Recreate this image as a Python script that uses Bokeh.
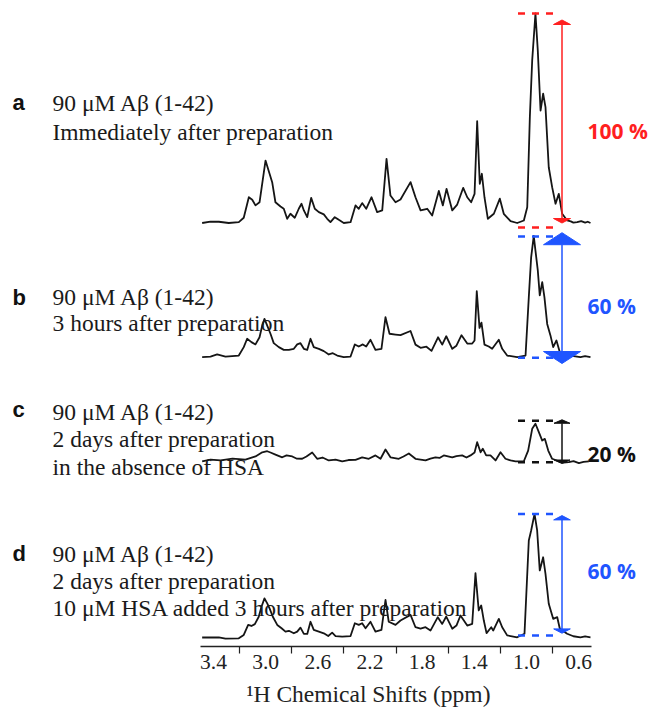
from bokeh.plotting import figure
from bokeh.models import Range1d, FixedTicker, ColumnDataSource, Title
from bokeh.core.properties import value
from bokeh.embed import file_html
from bokeh.resources import INLINE

# ---------------- data (ppm, intensity in % of spectrum a's main peak) -------------
ppm_a = [3.487, 3.423, 3.359, 3.283, 3.206, 3.168, 3.129, 3.103, 3.078, 3.047, 3.001, 2.970,
         2.950, 2.925, 2.886, 2.861, 2.835, 2.810, 2.777, 2.746, 2.725, 2.707, 2.681, 2.651,
         2.623, 2.592, 2.554, 2.528, 2.503, 2.470, 2.439, 2.401, 2.349, 2.311, 2.286, 2.260,
         2.229, 2.188, 2.145, 2.106, 2.073, 2.043, 2.004, 1.966, 1.889, 1.851, 1.812, 1.761,
         1.723, 1.672, 1.641, 1.613, 1.569, 1.531, 1.485, 1.454, 1.424, 1.398, 1.378, 1.358,
         1.342, 1.322, 1.296, 1.250, 1.204, 1.174, 1.122, 1.071, 1.020, 0.994, 0.974, 0.956,
         0.931, 0.913, 0.892, 0.872, 0.854, 0.829, 0.803, 0.777, 0.752, 0.726, 0.688, 0.660,
         0.640, 0.611, 0.580, 0.550, 0.530, 0.509]
int_a = [0.0, 0.7, 0.6, 0.0, 0.4, 2.5, 12.3, 11.1, 8.4, 9.9, 29.8, 23.5,
         19.5, 9.9, 7.9, 6.8, 2.0, 4.4, 2.5, 6.8, 9.2, 6.0, 2.8, 12.0,
         6.8, 5.2, 4.1, 2.0, 0.4, 2.8, 1.5, 0.0, 0.4, 8.4, 6.8, 9.5,
         6.8, 12.3, 5.2, 6.0, 30.6, 13.1, 9.9, 11.2, 19.5, 12.3, 6.0, 6.8,
         3.6, 15.3, 8.4, 16.3, 6.0, 8.8, 16.8, 12.3, 9.9, 13.9, 48.6, 18.7,
         23.5, 12.3, 2.0, 4.4, 11.6, 4.4, 0.9, 0.0, 1.2, 7.5, 50.5, 77.6,
         100.0, 82.3, 53.7, 61.7, 55.3, 26.6, 17.1, 9.2, 13.9, 4.4, 1.2, 0.8,
         0.2, 0.4, 0.9, 0.2, 0.6, 0.0]

ppm_b = [3.487, 3.423, 3.372, 3.308, 3.206, 3.168, 3.142, 3.109, 3.078, 3.047, 3.026, 3.009,
         2.988, 2.963, 2.938, 2.899, 2.861, 2.822, 2.784, 2.758, 2.733, 2.707, 2.681, 2.656,
         2.631, 2.592, 2.554, 2.516, 2.485, 2.451, 2.401, 2.349, 2.316, 2.286, 2.255, 2.229,
         2.196, 2.158, 2.112, 2.081, 2.050, 2.004, 1.966, 1.889, 1.851, 1.812, 1.767, 1.728,
         1.678, 1.646, 1.615, 1.569, 1.537, 1.498, 1.454, 1.416, 1.398, 1.381, 1.360, 1.345,
         1.322, 1.289, 1.263, 1.212, 1.186, 1.148, 1.071, 1.007, 0.982, 0.964, 0.944, 0.931,
         0.913, 0.898, 0.879, 0.862, 0.841, 0.816, 0.795, 0.770, 0.744, 0.701, 0.650, 0.586,
         0.550, 0.509]
int_b = [0.0, 0.3, 1.3, 0.3, 0.8, 4.8, 8.8, 7.2, 6.1, 9.5, 15.1, 18.3,
         15.1, 11.2, 6.7, 4.8, 3.5, 3.5, 4.0, 6.1, 6.7, 4.0, 3.5, 8.8,
         4.8, 4.0, 2.9, 1.3, 1.9, 0.8, 0.0, 0.3, 6.1, 5.1, 6.1, 5.1,
         8.3, 3.5, 4.0, 19.1, 11.2, 10.8, 10.5, 12.5, 6.0, 4.5, 5.0, 3.0,
         9.5, 6.0, 10.0, 4.0, 5.5, 10.5, 6.5, 6.5, 8.0, 31.5, 14.0, 16.5,
         6.0, 5.1, 4.0, 8.3, 4.0, 0.8, 0.0, 0.8, 28.6, 47.7, 57.9, 50.9,
         41.4, 29.5, 35.8, 28.6, 15.9, 10.4, 4.8, 8.0, 2.4, 0.3, 0.6, 0.0,
         0.5, 0.0]

ppm_c = [3.487, 3.423, 3.346, 3.254, 3.155, 3.078, 3.026, 2.988, 2.963, 2.925, 2.873, 2.840,
         2.796, 2.764, 2.720, 2.687, 2.643, 2.605, 2.564, 2.516, 2.464, 2.413, 2.365, 2.311,
         2.260, 2.209, 2.158, 2.119, 2.081, 2.043, 1.979, 1.943, 1.902, 1.851, 1.774, 1.736,
         1.698, 1.667, 1.634, 1.569, 1.537, 1.493, 1.460, 1.429, 1.398, 1.378, 1.352, 1.335,
         1.309, 1.276, 1.237, 1.199, 1.161, 1.122, 1.084, 1.020, 0.987, 0.956, 0.931, 0.905,
         0.879, 0.859, 0.833, 0.803, 0.752, 0.716, 0.675, 0.639, 0.598, 0.562, 0.522]
int_c = [0.1, 1.0, 0.6, 1.5, 1.0, 2.5, 4.5, 5.0, 4.4, 3.4, 2.1, 3.0,
         2.5, 1.5, 1.4, 2.5, 4.4, 1.4, 2.0, 0.6, 1.0, 0.2, 0.8, 0.9,
         2.1, 1.4, 3.0, 1.4, 5.8, 2.1, 1.4, 2.5, 3.9, 1.4, 0.6, 1.5,
         2.1, 1.8, 3.0, 2.1, 2.7, 3.0, 2.0, 3.0, 4.4, 9.3, 4.5, 6.2,
         3.0, 3.0, 0.6, 4.5, 1.4, 0.6, 0.2, 0.2, 5.3, 15.7, 18.1, 14.1,
         10.1, 10.9, 5.3, 1.4, 0.2, -0.4, -0.2, 0.3, -0.7, -0.1, 0.2]

ppm_d = [3.487, 3.423, 3.359, 3.308, 3.206, 3.168, 3.134, 3.109, 3.083, 3.053, 3.032, 3.009,
         2.988, 2.970, 2.945, 2.911, 2.878, 2.848, 2.822, 2.784, 2.758, 2.733, 2.707, 2.681,
         2.656, 2.631, 2.592, 2.554, 2.520, 2.490, 2.464, 2.413, 2.349, 2.316, 2.286, 2.260,
         2.234, 2.196, 2.158, 2.112, 2.081, 2.056, 2.004, 1.966, 1.889, 1.851, 1.812, 1.774,
         1.736, 1.680, 1.646, 1.615, 1.569, 1.537, 1.506, 1.454, 1.416, 1.391, 1.366, 1.347,
         1.327, 1.306, 1.270, 1.255, 1.212, 1.186, 1.148, 1.071, 1.015, 0.982, 0.964, 0.938,
         0.918, 0.898, 0.872, 0.854, 0.829, 0.795, 0.764, 0.744, 0.688, 0.640, 0.586, 0.550,
         0.509]
int_d = [0.0, 0.0, 0.1, -0.5, -0.4, 1.2, 6.0, 5.5, 6.4, 9.9, 14.7, 18.7,
         16.3, 13.9, 9.9, 6.0, 4.4, 2.8, 3.2, 2.0, 2.8, 4.7, 1.7, 1.7,
         7.5, 3.6, 2.8, 2.0, 0.7, 2.3, 0.7, 0.4, 0.7, 6.8, 6.0, 6.8,
         4.4, 7.5, 2.8, 3.6, 17.9, 7.5, 6.0, 8.1, 10.8, 4.9, 4.2, 4.9,
         3.3, 9.7, 6.5, 10.0, 4.2, 5.7, 10.5, 5.7, 6.5, 30.7, 12.9, 15.3,
         8.1, 2.1, 4.9, 3.3, 8.9, 4.9, 1.0, 0.1, 1.8, 46.3, 51.1, 59.0,
         51.1, 32.0, 38.3, 30.4, 16.1, 8.9, 9.7, 4.2, 1.8, 0.6, 0.1, 0.5,
         0.1]

panel_letters = ["a", "b", "c", "d"]
panel_texts = [
    ["90 \u03bcM A\u03b2 (1-42)", "Immediately after preparation"],
    ["90 \u03bcM A\u03b2 (1-42)", "3 hours after preparation"],
    ["90 \u03bcM A\u03b2 (1-42)", "2 days after preparation", "in the absence of HSA"],
    ["90 \u03bcM A\u03b2 (1-42)", "2 days after preparation",
     "10 \u03bcM HSA added 3 hours after preparation"],
]
percent_labels = ["100 %", "60 %", "20 %", "60 %"]
tick_values = [3.4, 3.0, 2.6, 2.2, 1.8, 1.4, 1.0, 0.6]
tick_labels = ["3.4", "3.0", "2.6", "2.2", "1.8", "1.4", "1.0", "0.6"]
minor_tick_values = [3.2, 2.8, 2.4, 2.0, 1.6, 1.2, 0.8]
x_title = "\u00b9H Chemical Shifts (ppm)"

spectra_ppm = [ppm_a, ppm_b, ppm_c, ppm_d]
spectra_int = [int_a, int_b, int_c, int_d]

# ---------------- layout / style ----------------------------------------------
W, H = 648, 715
FRAME_H = 646
PX_PER_PPM = 130.4
X0_PPM = 5.0334                  # ppm at the left edge of the canvas
SCALE = 2.095                    # px per % intensity
base_canvas = [222.5, 356.7, 461.2, 637.0]
colors = ["#ff1f1f", "#1f55ff", "#111111", "#1f55ff"]
top_dash_off = [0.0, -0.5, 3.0, 0.0]
bot_dash_off = [-4.5, -0.6, -0.5, 2.0]
top_tip_off = [-6.5, 3.7, 1.0, -1.7]
bot_tip_off = [4.5, -5.7, -1.3, 2.3]
head_h = [4.5, 12.0, 3.5, 4.3]
head_hw = [8.5, 18.5, 8.0, 8.3]
dash_x_px = (517.5, 555.5)
arrow_x_px = 561.5
letter_base = [102, 297, 409, 553]
line_bases = [[102, 131], [296, 322], [411, 438, 466], [553, 580, 607]]
pct_base = [130, 305, 453, 570]


def xp(px):
    return X0_PPM - px / PX_PER_PPM


def yp(py):
    return FRAME_H - py


p = figure(width=W, height=H, output_backend="svg", toolbar_location=None,
           x_range=Range1d(xp(0), xp(W)), y_range=Range1d(0, FRAME_H),
           y_axis_location=None, min_border_left=0, min_border_right=0,
           min_border_top=0, min_border_bottom=H - FRAME_H)
p.outline_line_color = None
p.grid.visible = False
p.background_fill_color = "white"
p.border_fill_color = "white"

ax = p.xaxis[0]
ax.ticker = FixedTicker(ticks=tick_values, minor_ticks=minor_tick_values)
ax.major_label_overrides = {t: l for t, l in zip(tick_values, tick_labels)}
ax.bounds = (0.5, 3.5)
ax.axis_line_width = 1.5
ax.axis_line_color = "#222222"
ax.major_tick_out = 0
ax.major_tick_in = 0
ax.minor_tick_out = 7
ax.minor_tick_in = 0
ax.minor_tick_line_width = 1.2
ax.minor_tick_line_color = "#222222"
ax.major_label_standoff = 1
ax.major_label_text_font = "Liberation Serif"
ax.major_label_text_font_size = "21.5px"
ax.major_label_text_color = "#222222"

# axis title, placed under the spectra (not centred on the whole frame)
p.add_layout(Title(text=x_title, align="left", offset=246, standoff=15,
                   text_font="Liberation Serif", text_font_size="23.5px",
                   text_font_style="normal", text_color="#222222"), "below")

serif = value("Liberation Serif")

for i in range(4):
    base = yp(base_canvas[i])
    ys = [base + SCALE * v for v in spectra_int[i]]
    p.line(spectra_ppm[i], ys, line_color="#151515", line_width=1.8,
           line_join="round")

    peak = base + SCALE * max(spectra_int[i])
    top_y = peak + top_dash_off[i]
    bot_y = base + bot_dash_off[i]
    c = colors[i]
    p.segment(x0=[xp(dash_x_px[0])] * 2, x1=[xp(dash_x_px[1])] * 2,
              y0=[top_y, bot_y], y1=[top_y, bot_y], line_color=c,
              line_width=2.5, line_dash="7 7")
    ax_x = xp(arrow_x_px)
    t_tip = top_y + top_tip_off[i]
    b_tip = bot_y + bot_tip_off[i]
    p.segment(x0=[ax_x], x1=[ax_x], y0=[t_tip - head_h[i]], y1=[b_tip + head_h[i]],
              line_color=c, line_width=1.5)
    hw = head_hw[i] / PX_PER_PPM
    p.patches(xs=[[ax_x - hw, ax_x + hw, ax_x], [ax_x - hw, ax_x + hw, ax_x]],
              ys=[[t_tip - head_h[i], t_tip - head_h[i], t_tip],
                  [b_tip + head_h[i], b_tip + head_h[i], b_tip]],
              fill_color=c, line_color=c, line_width=1)

    p.text(x=[xp(587)], y=[yp(pct_base[i])], text=[percent_labels[i]],
           text_font=value("Open Sans"), text_font_style="bold",
           text_font_size=value("21px"), text_color=c,
           text_align="left", text_baseline="alphabetic")

    p.text(x=[xp(12)], y=[yp(letter_base[i])], text=[panel_letters[i]],
           text_font=value("Liberation Sans"), text_font_style="bold",
           text_font_size=value("22px"), text_color="#111111",
           text_align="left", text_baseline="alphabetic")
    n = len(panel_texts[i])
    src = ColumnDataSource(dict(x=[xp(52)] * n,
                                y=[yp(b) for b in line_bases[i]],
                                t=panel_texts[i]))
    p.text(x="x", y="y", text="t", source=src, text_font=serif,
           text_font_size=value("23.5px"), text_color="#1a1a1a",
           text_align="left", text_baseline="alphabetic")

open("out.html", "w").write(file_html(p, INLINE))
